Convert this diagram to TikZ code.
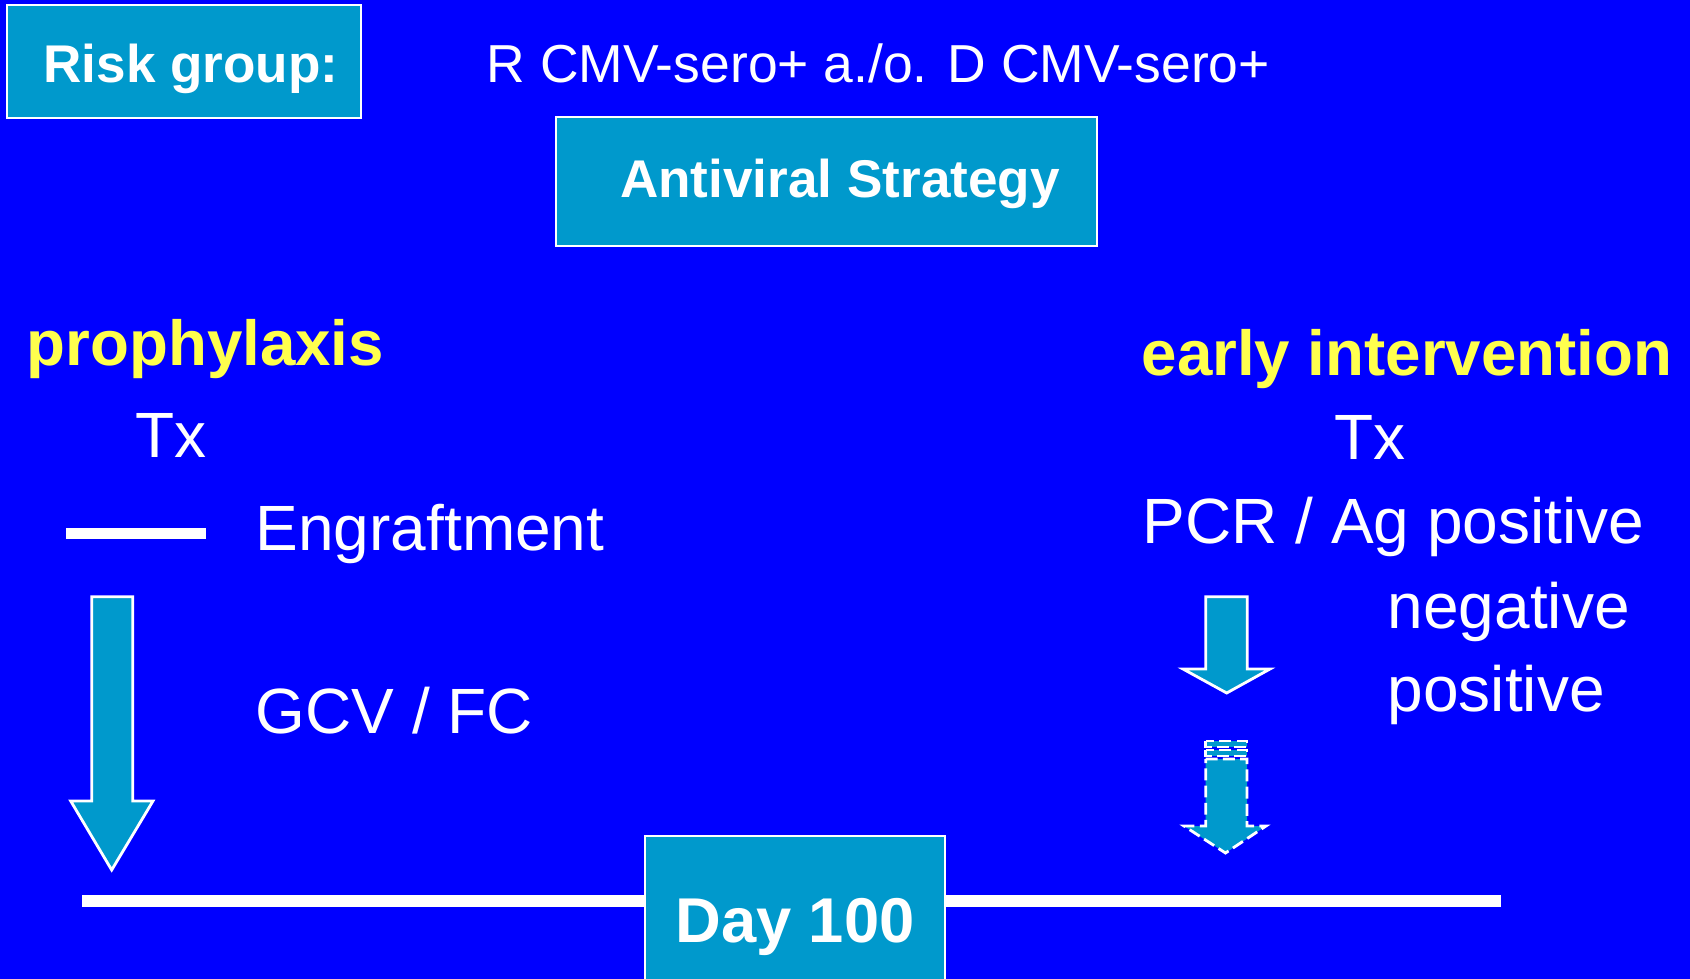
\documentclass[tikz,border=0pt]{standalone}
\usepackage{fontspec}
\setmainfont{Liberation Sans}
\definecolor{slideblue}{RGB}{0,0,255}
\definecolor{boxcyan}{RGB}{0,153,204}
\definecolor{titleyellow}{RGB}{255,255,77}
\begin{document}
\begin{tikzpicture}[x=0.01cm, y=-0.01cm,
    panel/.style={draw=white, line width=0.6pt, fill=boxcyan, text=white, inner sep=0pt, anchor=base, font=\bfseries\fontsize{15.1}{18}\selectfont},
    plain/.style={text=white, inner sep=0pt, anchor=base west, font=\fontsize{18.2}{22}\selectfont},
    heading/.style={plain, text=titleyellow, font=\bfseries\fontsize{18.1}{22}\selectfont},
    bigarrow/.style={draw=white, line width=0.8pt, fill=boxcyan, line join=miter},
    dashedge/.style={dash pattern=on 3.4pt off 1.5pt}]
        % Slide background (fixes the page size too)
        \fill[slideblue] (0,0) rectangle (1690,979);
        \useasboundingbox (0,0) rectangle (1690,979);

        % Header: risk group and the strategy box
        \node[panel, minimum width=3.54cm, text height=0.78cm, text depth=0.35cm] (risk) at (184,83) {\hspace*{0.14cm}Risk group:};
        \node[plain, font=\fontsize{15.2}{18}\selectfont] (riskdef) at (486,83) {R CMV-sero+ a./o. D CMV-sero+};
        \node[panel, minimum width=5.41cm, text height=0.81cm, text depth=0.48cm] (strategy) at (826.5,198) {\hspace*{0.27cm}Antiviral Strategy};

        % Left column: prophylaxis
        \node[heading] (prophy) at (26,366) {prophylaxis};
        \node[plain] (txleft) at (135,457) {Tx};
        \coordinate (engleft) at (66,533.5);
        \coordinate (engright) at (205.6,533.5);
        \draw[white, line width=0.116cm] (engleft) -- (engright);
        \node[plain] (engraft) at (255,550) {Engraftment};
        \node[plain] (gcv) at (255,733) {GCV / FC};
        % Long arrow down to the time line
        \draw[bigarrow] (91.7,596.7) -- (132.7,596.7) -- (132.7,801) -- (153,801) -- (111.7,870) -- (70.7,801) -- (91.7,801) -- cycle;

        % Right column: early intervention
        \node[heading] (early) at (1141,376) {early intervention};
        \node[plain] (txright) at (1333.5,459) {Tx};
        \node[plain] (pcr) at (1142,543.5) {PCR / Ag positive};
        \node[plain] (neg) at (1387,628) {negative};
        \node[plain] (pos) at (1387,711.5) {positive};
        % Short solid arrow (negative)
        \draw[bigarrow] (1205.7,596.7) -- (1247.3,596.7) -- (1247.3,669) -- (1270,669) -- (1226.7,693) -- (1183,669) -- (1205.7,669) -- cycle;
        % Striped, dashed arrow (positive)
        \draw[bigarrow, dashedge] (1205.7,741) rectangle (1247,747);
        \draw[bigarrow, dashedge] (1205.7,750) rectangle (1247,756);
        \draw[bigarrow, dashedge] (1205.7,759) -- (1247,759) -- (1247,826) -- (1266,826) -- (1225.5,853) -- (1184,826) -- (1205.7,826) -- cycle;

        % Time line with the Day 100 mark
        \coordinate (tlstart) at (82,901);
        \coordinate (tlend) at (1501,901);
        \draw[white, line width=0.12cm] (tlstart) -- (tlend);
        \node[panel, font=\bfseries\fontsize{18}{22}\selectfont, minimum width=3.0cm, text height=1.06cm, text depth=0.59cm] (day) at (795,942) {Day 100};
    \end{tikzpicture}
\end{document}
